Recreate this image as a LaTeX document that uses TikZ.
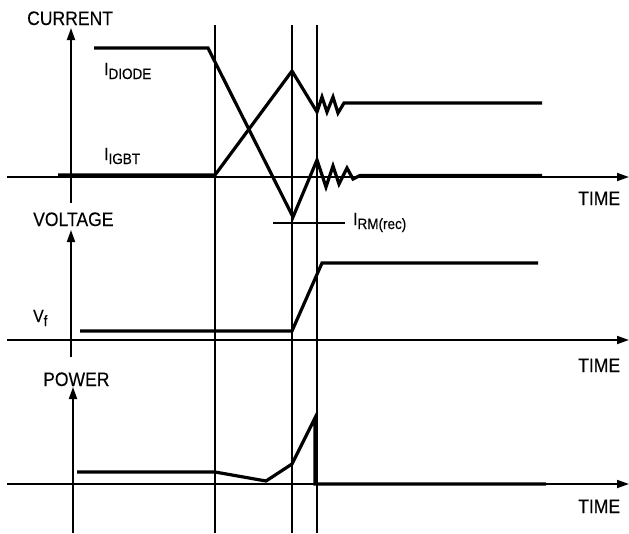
\documentclass[tikz,border=0pt]{standalone}
\usepackage{fontspec}
\setmainfont{Liberation Sans}[FakeStretch=0.9,FakeBold=0.3]
\usetikzlibrary{arrows.meta}
\newcommand\axlab{\fontsize{19.5}{19.5}\selectfont}
\newcommand\ilab{\fontsize{17.5}{17.5}\selectfont}
\newcommand\isub[1]{\raisebox{-4pt}{\fontsize{15}{15}\selectfont #1}}
\begin{document}
\begin{tikzpicture}[x=1pt,y=-1pt,
  thinline/.style={line width=1.8pt},
  thickline/.style={line width=3.2pt,line join=miter},
  axisarrow/.style={line width=1.8pt,-{Triangle[length=12pt,width=8pt]}},
  lab/.style={inner sep=0pt,anchor=base west,font=\axlab},
  ilabel/.style={inner sep=0pt,anchor=base west,font=\ilab}]
\useasboundingbox (0,0) rectangle (629,533);
% vertical time markers
\draw[thinline] (215,25) -- (215,533);
\draw[thinline] (292,25) -- (292,533);
\draw[thinline] (317,25) -- (317,533);
% axes
\draw[axisarrow] (71,203) -- (71,28);
\draw[axisarrow] (7,177) -- (629,177);
\draw[axisarrow] (71,357) -- (71,230);
\draw[axisarrow] (7,340) -- (629,340);
\draw[axisarrow] (73,533) -- (73,387);
\draw[axisarrow] (7,484) -- (629,484);
% labels
\node[lab] (cur) at (27,25) {CURRENT};
\node[lab] (volt) at (33,226) {VOLTAGE};
\node[lab] (pow) at (43,386) {POWER};
\node[lab] (t1) at (578,205) {TIME};
\node[lab] (t2) at (578,372) {TIME};
\node[lab] (t3) at (578,513) {TIME};
\node[ilabel] (idiode) at (104,75) {I\isub{DIODE}};
\node[ilabel] (iigbt) at (104,160) {I\isub{IGBT}};
\node[ilabel] (irm) at (353,225) {I\isub{RM(rec)}};
\node[ilabel] (vf) at (33,322) {V\isub{f}};
% IRM marker line
\draw[thinline] (273,223) -- (345,223);
% diode current
\draw[thickline] (94,48) -- (208,48) -- (293,217) -- (317,160) -- (326,187) -- (333,166)
  -- (339,184) -- (347,168) -- (353,179) -- (360,175.5) -- (542,175.5);
% IGBT current
\draw[thickline] (58,175) -- (215,175) -- (292,71) -- (317,112) -- (322,97) -- (327,112)
  -- (333,97) -- (338,113) -- (344,103) -- (542,103);
% voltage
\draw[thickline] (80,331) -- (292,331) -- (322,263) -- (538,263);
% power
\draw[thickline] (77,472) -- (215,472) -- (266,481) -- (292,464) -- (315,418) -- (315,484) -- (546,484);
\end{tikzpicture}
\end{document}
